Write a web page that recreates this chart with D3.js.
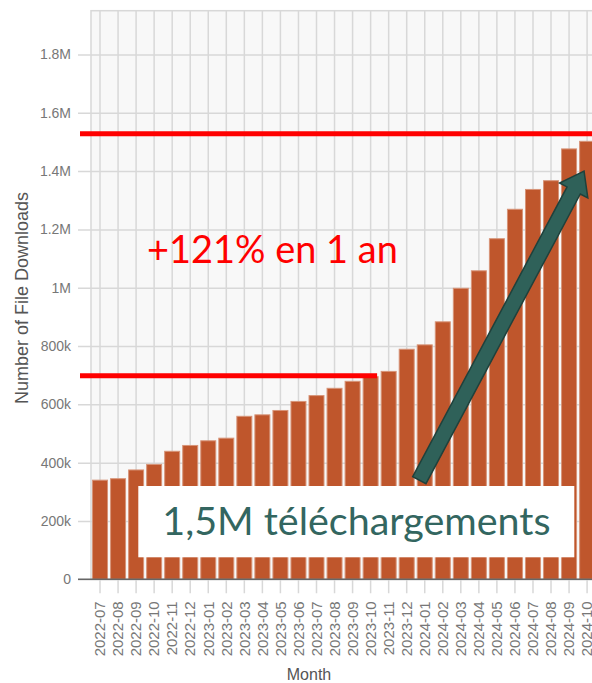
<!DOCTYPE html>
<html>
<head>
<meta charset="utf-8">
<script src="https://cdn.jsdelivr.net/npm/d3@7"></script>
<style>
	body { margin: 0; background: #fff; overflow: hidden; }
	svg { display: block; font-family: "Liberation Sans", Arial, sans-serif; }
	.tickText { fill: #777; font-size: 14px; }
	.axisTitle { fill: #555; font-size: 16px; }
</style>
</head>
<body>
<svg></svg>
<script>
// monthly downloads
var months = ["2022-07", "2022-08", "2022-09", "2022-10", "2022-11", "2022-12",
	"2023-01", "2023-02", "2023-03", "2023-04", "2023-05", "2023-06",
	"2023-07", "2023-08", "2023-09", "2023-10", "2023-11", "2023-12",
	"2024-01", "2024-02", "2024-03", "2024-04", "2024-05", "2024-06",
	"2024-07", "2024-08", "2024-09", "2024-10"];
var downloads = [340000, 345000, 375000, 394000, 439000, 459000,
	475000, 484000, 559000, 564000, 579000, 610000,
	630000, 655000, 679000, 695000, 713000, 789000,
	804000, 883000, 998000, 1058000, 1168000, 1269000,
	1337000, 1367000, 1476000, 1502000];
var yTicks = [0, 200000, 400000, 600000, 800000, 1000000, 1200000, 1400000, 1600000, 1800000];

// annotation levels (a year apart) and the arrow (month index, value)
var levelLow = 698000;
var levelHigh = 1528000;
var lowEndMonth = "2023-10";
var arrowFrom = [17.7, 340000];
var arrowTo = [26.83, 1400000];
var growthText = "+121% en 1 an";
var totalText = "1,5M t\u00e9l\u00e9chargements";

var W = 592, H = 683;
var plotLeft = 91, plotTop = 10.7, plotBottom = 579.3;
var step = 18.04;
var plotRight = plotLeft + months.length * step;

var svg = d3.select("svg").attr("width", W).attr("height", H);

var xs = d3.scaleBand()
		.domain(months)
		.range([plotLeft, plotRight])
		.paddingInner(0.17)
		.paddingOuter(0.085);
var ys = d3.scaleLinear().domain([0, 1950000]).range([plotBottom, plotTop]);
// index -> band centre, used for the arrow
var xi = d3.scaleLinear().domain([0, 1]).range([xs(months[0]) + xs.bandwidth() / 2, xs(months[1]) + xs.bandwidth() / 2]);

// plot background
svg.append("rect")
	.attr("x", plotLeft).attr("y", plotTop)
	.attr("width", W - plotLeft + 10).attr("height", plotBottom - plotTop)
	.attr("fill", "#f8f8f8")
	.attr("stroke", "#d8d8d8")
	.attr("stroke-width", 1.5);

// horizontal grid + y ticks
var ya = d3.axisLeft(ys)
		.tickValues(yTicks)
		.tickSize(-(W - plotLeft + 13))
		.tickPadding(7)
		.tickFormat(function(d) { return d === 0 ? "0" : d3.format("~s")(d); });

var yg = svg.append("g")
	.attr("transform", "translate(" + (plotLeft - 13) + ",0)")
	.call(ya);
yg.select(".domain").remove();
yg.selectAll(".tick line").attr("stroke", "#d8d8d8").attr("stroke-width", 1.5);
yg.selectAll(".tick text").attr("class", "tickText").attr("font-family", null).attr("font-size", null).attr("fill", null);

// vertical grid through band centres, running into the x ticks
var xa = d3.axisBottom(xs)
		.tickSize(-(plotBottom - plotTop))
		.tickSizeOuter(0)
		.tickPadding(22);

var xg = svg.append("g")
	.attr("transform", "translate(0," + plotBottom + ")")
	.call(xa);
xg.select(".domain").remove();
xg.selectAll(".tick line")
	.attr("stroke", "#d8d8d8")
	.attr("stroke-width", 1.5)
	.attr("y2", -(plotBottom - plotTop))
	.attr("y1", 14);
xg.selectAll(".tick text")
	.attr("class", "tickText")
	.attr("font-family", null).attr("font-size", null).attr("fill", null)
	.attr("transform", "rotate(-90)")
	.attr("text-anchor", "end")
	.attr("dy", "0.35em")
	.attr("x", -22)
	.attr("y", 0)
	.style("font-size", "15px");

// bars
svg.selectAll(".bar")
	.data(months)
	.enter()
	.append("rect")
	.attr("class", "bar")
	.attr("x", function(d) { return xs(d); })
	.attr("width", xs.bandwidth())
	.attr("y", function(d, i) { return ys(downloads[i]); })
	.attr("height", function(d, i) { return ys(0) - ys(downloads[i]); })
	.attr("fill", "#bf562c")
	.attr("stroke", "#d79478")
	.attr("stroke-width", 1);

// zero line
svg.append("line")
	.attr("x1", plotLeft - 13).attr("x2", W)
	.attr("y1", ys(0)).attr("y2", ys(0))
	.attr("stroke", "#666")
	.attr("stroke-width", 1.5);

// axis titles
svg.append("text")
	.attr("class", "axisTitle")
	.attr("transform", "translate(28," + ((plotTop + plotBottom) / 2 + 3) + ") rotate(-90)")
	.attr("text-anchor", "middle")
	.style("font-size", "18px")
	.text("Number of File Downloads");

svg.append("text")
	.attr("class", "axisTitle")
	.attr("x", 309)
	.attr("y", 680)
	.attr("text-anchor", "middle")
	.text("Month");

// red level lines
svg.append("line")
	.attr("x1", plotLeft - 11).attr("x2", W)
	.attr("y1", ys(levelHigh)).attr("y2", ys(levelHigh))
	.attr("stroke", "#ff0000").attr("stroke-width", 5);
svg.append("line")
	.attr("x1", plotLeft - 11).attr("x2", xs(lowEndMonth) + xs.bandwidth() - 1)
	.attr("y1", ys(levelLow)).attr("y2", ys(levelLow))
	.attr("stroke", "#ff0000").attr("stroke-width", 5);

// fit a text to a width by adjusting its font size
function fitText(sel, width) {
	var w = sel.node().getComputedTextLength();
	var fs = parseFloat(sel.style("font-size"));
	sel.style("font-size", (fs * width / w) + "px");
}

var growth = svg.append("text")
	.attr("x", 147)
	.attr("y", 262.7)
	.attr("fill", "#ff0000")
	.style("font-family", "Lato, 'Open Sans', sans-serif")
	.style("font-size", "36px")
	.text(growthText);
fitText(growth, 251);

// arrow
var ax0 = xi(arrowFrom[0]), ay0 = ys(arrowFrom[1]);
var ax1 = xi(arrowTo[0]), ay1 = ys(arrowTo[1]);
var len = Math.sqrt((ax1 - ax0) * (ax1 - ax0) + (ay1 - ay0) * (ay1 - ay0));
var ang = Math.atan2(ay1 - ay0, ax1 - ax0) * 180 / Math.PI;
var shaft = 7.5, head = 16, headLen = 22;
svg.append("path")
	.attr("transform", "translate(" + ax0 + "," + ay0 + ") rotate(" + ang + ")")
	.attr("d", "M0," + (-shaft) + "L" + (len - headLen) + "," + (-shaft) +
		"L" + (len - headLen) + "," + (-head) + "L" + len + ",0" +
		"L" + (len - headLen) + "," + head + "L" + (len - headLen) + "," + shaft +
		"L0," + shaft + "Z")
	.attr("fill", "#2f6159")
	.attr("stroke", "#1f413c")
	.attr("stroke-width", 1.5)
	.attr("stroke-linejoin", "miter");

// white label box
svg.append("rect")
	.attr("x", 138.3).attr("y", 486)
	.attr("width", 436).attr("height", 71.3)
	.attr("fill", "#fff");

var total = svg.append("text")
	.attr("x", 162.3)
	.attr("y", 535)
	.attr("fill", "#336660")
	.style("font-family", "Lato, 'Open Sans', sans-serif")
	.style("font-size", "36px")
	.text(totalText);
fitText(total, 388.4);
</script>
</body>
</html>
